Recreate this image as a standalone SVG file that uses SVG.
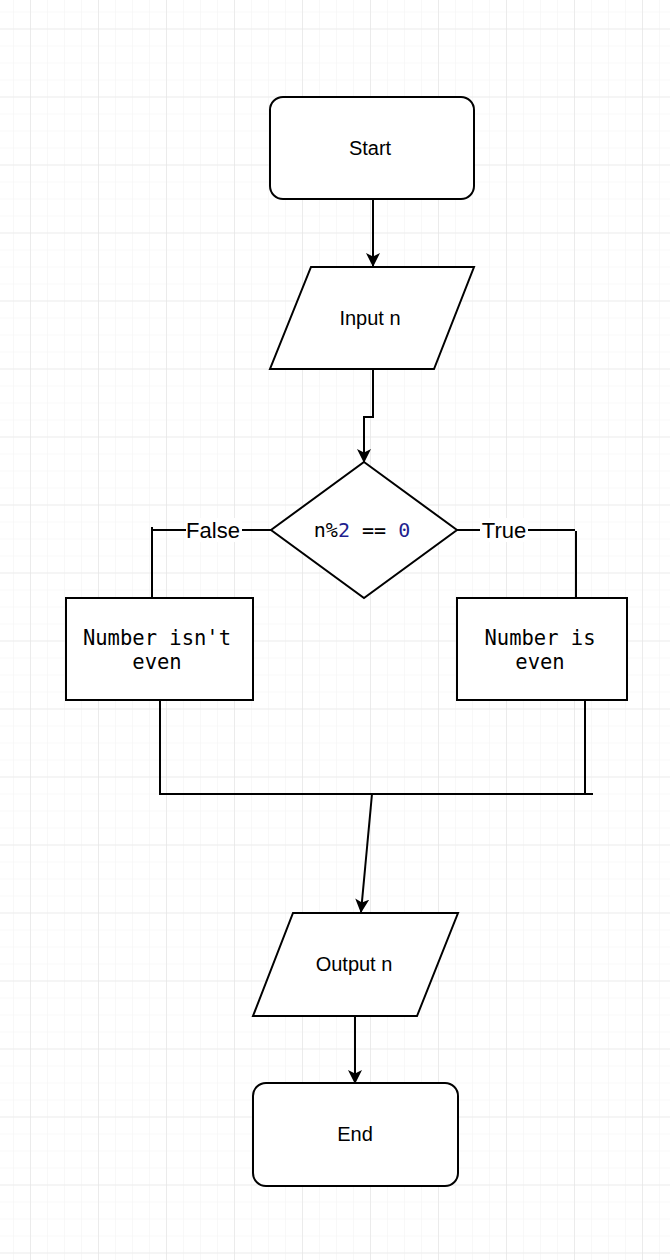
<svg xmlns="http://www.w3.org/2000/svg" width="670" height="1260" viewBox="0 0 670 1260">
<defs>
<pattern id="minor" x="30" y="28.5" width="17" height="17" patternUnits="userSpaceOnUse">
<path d="M0 0V17M0 0H17" fill="none" stroke="#f1f1f1" stroke-width="1"/>
</pattern>
<pattern id="major" x="30" y="28.5" width="68" height="68" patternUnits="userSpaceOnUse">
<path d="M0 0V68M0 0H68" fill="none" stroke="#e2e2e2" stroke-width="1.2"/>
</pattern>
<marker id="arr" markerWidth="14" markerHeight="14" refX="13" refY="7" orient="auto" markerUnits="userSpaceOnUse">
<path d="M0 0L14 7L0 14L3.5 7Z" fill="#000"/>
</marker>
</defs>
<style>
.shape{fill:#fff;stroke:#000;stroke-width:2}
.edge{fill:none;stroke:#000;stroke-width:2}
.sans{font-family:"Liberation Sans",Arial,sans-serif;font-size:20px;fill:#000;text-anchor:middle;dominant-baseline:central}
.mono{font-family:"DejaVu Sans Mono","Liberation Mono",monospace;font-size:20.5px;fill:#000;text-anchor:middle;dominant-baseline:central}
.lbl{font-family:"Liberation Sans",Arial,sans-serif;font-size:22px;fill:#000;text-anchor:middle;dominant-baseline:central}
.num{fill:#1f1f8f}
</style>
<rect width="670" height="1260" fill="#fff"/>
<rect width="670" height="1260" fill="url(#minor)"/>
<rect width="670" height="1260" fill="url(#major)"/>

<g id="connectors">
<path class="edge" d="M373 199V266" marker-end="url(#arr)"/>
<path class="edge" d="M373 369V417H364V462" marker-end="url(#arr)"/>
<path class="edge" d="M271 530H152V597M152 527V531"/>
<path class="edge" d="M457 530H575M576 531V598"/>
<path class="edge" d="M160 700V794H593M585 700V794"/>
<path class="edge" d="M372 794L361 912" marker-end="url(#arr)"/>
<path class="edge" d="M355 1016V1083" marker-end="url(#arr)"/>
<rect x="186" y="518" width="56" height="24" fill="#fff"/>
<text class="lbl" x="213" y="530">False</text>
<rect x="480" y="518" width="48" height="24" fill="#fff"/>
<text class="lbl" x="504" y="530">True</text>
</g>

<g id="start">
<rect class="shape" x="270" y="97" width="204" height="102" rx="13"/>
<text class="sans" x="370" y="148">Start</text>
</g>

<g id="input">
<polygon class="shape" points="311,267 474,267 434,369 270,369"/>
<text class="sans" x="370" y="318">Input n</text>
</g>

<g id="decision">
<polygon class="shape" points="364,462 457,530 364,598 271,530"/>
<text class="mono" style="font-size:20px" x="362" y="530">n%<tspan class="num">2</tspan> == <tspan class="num">0</tspan></text>
</g>

<g id="not-even">
<rect class="shape" x="66" y="598" width="187" height="102"/>
<text class="mono" x="157" y="638">Number isn't</text>
<text class="mono" x="157" y="662">even</text>
</g>

<g id="is-even">
<rect class="shape" x="457" y="598" width="170" height="102"/>
<text class="mono" x="540" y="638">Number is</text>
<text class="mono" x="540" y="662">even</text>
</g>

<g id="output">
<polygon class="shape" points="293,913 458,913 417,1016 253,1016"/>
<text class="sans" x="354" y="964">Output n</text>
</g>

<g id="end">
<rect class="shape" x="253" y="1083" width="205" height="103" rx="13"/>
<text class="sans" x="355" y="1134">End</text>
</g>
</svg>
